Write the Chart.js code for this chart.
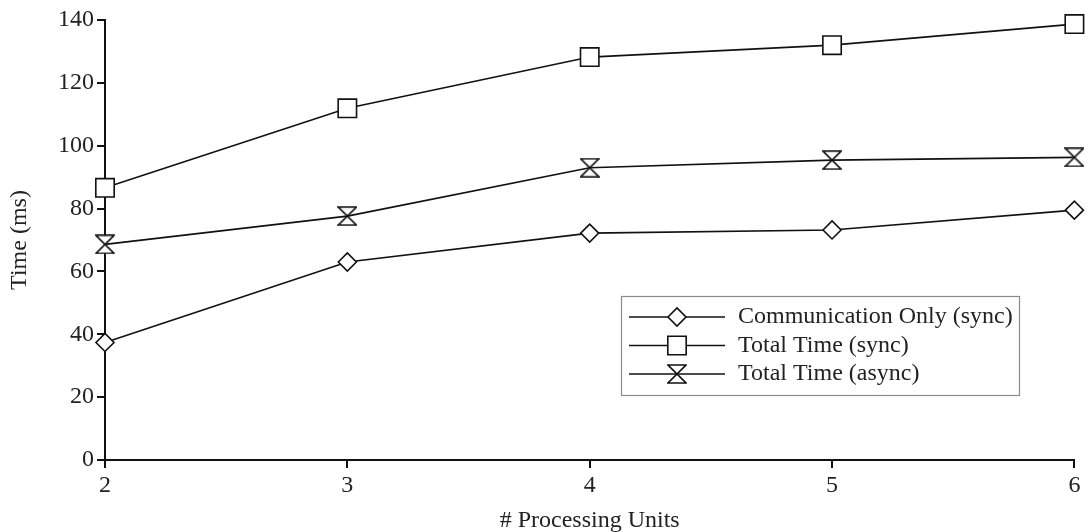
<!DOCTYPE html>
<html>
<head>
<meta charset="utf-8">
<script src="https://cdn.jsdelivr.net/npm/chart.js@4.4.1/dist/chart.umd.min.js"></script>
<style>
  html, body { margin: 0; padding: 0; background: #fff; }
  #wrap { width: 1089px; height: 532px; position: relative; }
</style>
</head>
<body>
<div id="wrap"><canvas id="chart"></canvas></div>
<script>
// Number of processing units on the x axis
const units = [2, 3, 4, 5, 6];

// Measured times in milliseconds
const commOnlySync = [37.4, 63.0, 72.2, 73.2, 79.5];
const totalSync = [86.6, 111.9, 128.2, 132.0, 138.7];
const totalAsync = [68.6, 77.6, 93.0, 95.4, 96.3];

const seriesLabels = ['Communication Only (sync)', 'Total Time (sync)', 'Total Time (async)'];
const yTicks = [0, 20, 40, 60, 80, 100, 120, 140];

const FONT = '"Liberation Serif", "Times New Roman", serif';
const INK = '#222';

// Hourglass marker: two white triangles meeting at the centre, closed top and bottom
function hourglass(size) {
  const c = document.createElement('canvas');
  c.width = size; c.height = size;
  const g = c.getContext('2d');
  const p = 1, s = size - 1;
  g.lineWidth = 1.6;
  g.strokeStyle = '#111';
  g.fillStyle = '#fff';
  g.beginPath();
  g.moveTo(p, p); g.lineTo(s, p); g.lineTo(p, s); g.lineTo(s, s); g.closePath();
  g.fill(); g.stroke();
  return c;
}
const hourglassMark = hourglass(20);

function toPoints(vals) { return units.map((u, i) => ({ x: u, y: vals[i] })); }

function series(label, vals, style, radius) {
  return {
    label: label,
    data: toPoints(vals),
    borderColor: '#111',
    borderWidth: 1.6,
    backgroundColor: '#fff',
    pointStyle: style,
    pointRadius: radius,
    pointHoverRadius: radius,
    pointBorderColor: '#111',
    pointBackgroundColor: '#fff',
    pointBorderWidth: 1.6,
    tension: 0,
    fill: false,
    clip: false
  };
}

// Boxed legend with a line through each marker
const boxedLegend = {
  id: 'boxedLegend',
  afterDraw(chart, args, opts) {
    const ctx = chart.ctx;
    ctx.save();
    ctx.fillStyle = '#fff';
    ctx.fillRect(opts.x, opts.y, opts.w, opts.h);
    ctx.strokeStyle = '#8a8a8a';
    ctx.lineWidth = 1.2;
    ctx.strokeRect(opts.x + 0.5, opts.y + 0.5, opts.w, opts.h);
    chart.data.datasets.forEach((ds, i) => {
      const cy = opts.y + opts.firstRow + i * opts.rowGap;
      const x0 = opts.x + opts.lineStart, x1 = x0 + opts.lineLen;
      ctx.strokeStyle = '#111';
      ctx.lineWidth = 1.6;
      ctx.beginPath(); ctx.moveTo(x0, cy); ctx.lineTo(x1, cy); ctx.stroke();
      const mx = (x0 + x1) / 2;
      if (ds.pointStyle instanceof HTMLCanvasElement) {
        ctx.drawImage(ds.pointStyle, mx - ds.pointStyle.width / 2, cy - ds.pointStyle.height / 2);
      } else {
        ctx.fillStyle = '#fff';
        ctx.strokeStyle = '#111';
        ctx.lineWidth = 1.6;
        Chart.helpers.drawPoint(ctx, { pointStyle: ds.pointStyle, radius: ds.pointRadius, borderWidth: 1.6 }, mx, cy);
      }
      ctx.fillStyle = INK;
      ctx.font = opts.font;
      ctx.textBaseline = 'middle';
      ctx.textAlign = 'left';
      ctx.fillText(ds.label, opts.x + opts.textStart, cy);
    });
    ctx.restore();
  }
};

new Chart(document.getElementById('chart'), {
  type: 'line',
  data: {
    datasets: [
      series(seriesLabels[0], commOnlySync, 'rectRot', 9),
      series(seriesLabels[1], totalSync, 'rect', 13),
      series(seriesLabels[2], totalAsync, hourglassMark, 10)
    ]
  },
  options: {
    responsive: true,
    maintainAspectRatio: false,
    animation: false,
    events: [],
    layout: { padding: { top: 20, right: 12, left: 0, bottom: 0 } },
    plugins: {
      legend: { display: false },
      tooltip: { enabled: false },
      boxedLegend: {
        x: 621, y: 296, w: 398, h: 99,
        firstRow: 21, rowGap: 28.5,
        lineStart: 8, lineLen: 96, textStart: 117,
        font: '24px ' + FONT
      }
    },
    scales: {
      x: {
        type: 'linear',
        min: 2, max: 6,
        afterFit(scale) { scale.height = 72; },
        afterBuildTicks(scale) { scale.ticks = units.map(v => ({ value: v })); },
        border: { display: true, color: '#111', width: 2 },
        grid: { display: true, drawOnChartArea: false, drawTicks: true, tickLength: 8, color: '#111', lineWidth: 2 },
        ticks: { color: INK, font: { family: FONT, size: 24 }, padding: 3, maxRotation: 0 },
        title: { display: true, text: '# Processing Units', color: INK, font: { family: FONT, size: 24 }, padding: { top: 0, bottom: -3 } }
      },
      y: {
        min: 0, max: 140,
        afterFit(scale) { scale.width = 105; },
        afterBuildTicks(scale) { scale.ticks = yTicks.map(v => ({ value: v })); },
        border: { display: true, color: '#111', width: 2 },
        grid: { display: true, drawOnChartArea: false, drawTicks: true, tickLength: 8, color: '#111', lineWidth: 2 },
        ticks: { color: INK, font: { family: FONT, size: 24 }, padding: 3 },
        title: { display: true, text: 'Time (ms)', color: INK, font: { family: FONT, size: 24 }, padding: { top: 5, bottom: 0 } }
      }
    }
  },
  plugins: [boxedLegend]
});
</script>
</body>
</html>
